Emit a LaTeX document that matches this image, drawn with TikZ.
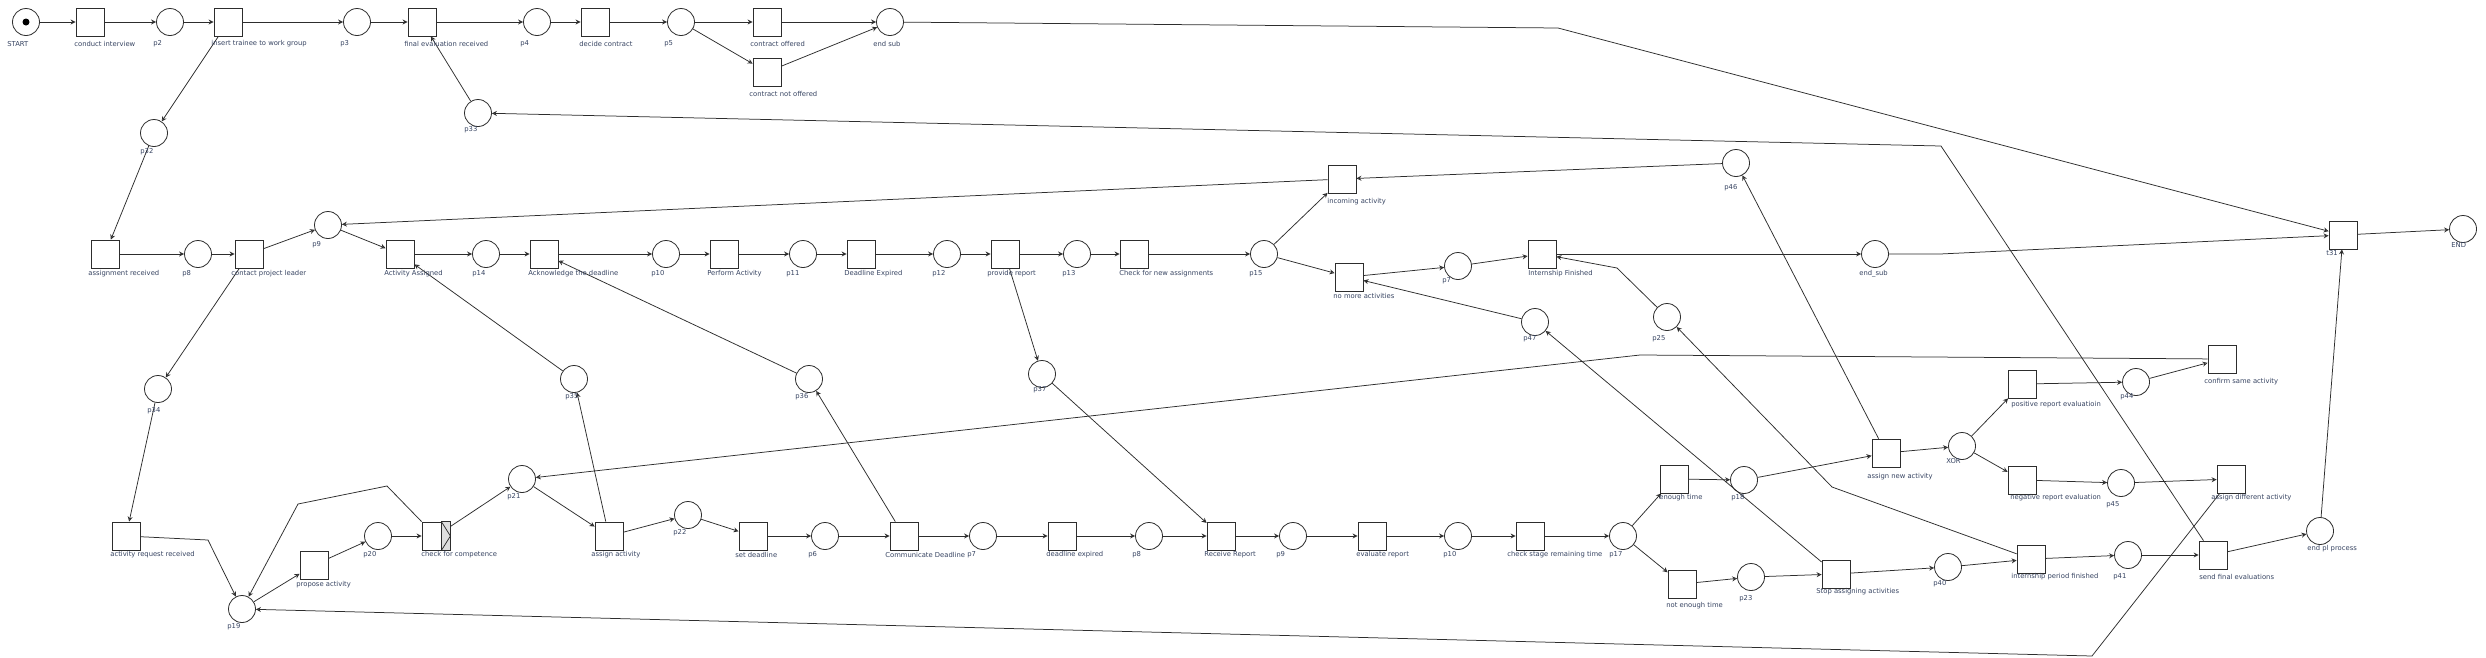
\documentclass[tikz,border=0pt]{standalone}
\usepackage{fontspec}
\newfontfamily\lblfont{DejaVu Sans}
\usetikzlibrary{arrows.meta,positioning}
\definecolor{labelcol}{RGB}{55,68,98}
\definecolor{linecol}{RGB}{45,45,45}

\begin{document}
\begin{tikzpicture}
	% Styles
	[
	x=1pt,y=-1pt,
	color=linecol,line width=0.75pt,
	>={Stealth[open,length=5pt,width=5pt]},
	place/.style={circle,draw=linecol,fill=white,line width=0.8pt,inner sep=0pt,minimum size=27pt},
	trans/.style={rectangle,draw=linecol,fill=white,line width=0.8pt,inner sep=0pt,minimum size=28pt},
	token/.style={circle,fill=black,inner sep=0pt,minimum size=7pt},
	lbl/.style={anchor=west,inner sep=0pt,text=labelcol,font=\lblfont\fontsize{6.8}{8}\selectfont},
	]

	% Frame
	\fill[white] (0,0) rectangle (2486,657);
	\useasboundingbox (0,0) rectangle (2486,657);

	% Bends
	\coordinate (b1) at (1558,28);
	\coordinate (b2) at (1941,146);
	\coordinate (b3) at (1940,254);
	\coordinate (b4) at (1617,268);
	\coordinate (b5) at (1832,487);
	\coordinate (b6) at (1640,355);
	\coordinate (b7) at (2092,656);
	\coordinate (b8) at (208,540);
	\coordinate (b9) at (387,486);
	\coordinate (b10) at (298,504);

	% Places
	\node at (26,22) (start) [place] {};
	\node at (26,22) (tok) [token] {};
	\node at (170,22) (p2) [place] {};
	\node at (357,22) (p3) [place] {};
	\node at (537,22) (p4) [place] {};
	\node at (681,22) (p5) [place] {};
	\node at (890,22) (endsub) [place] {};
	\node at (478,113) (p33) [place] {};
	\node at (154,133) (p32) [place] {};
	\node at (198,254) (p8a) [place] {};
	\node at (328,225) (p9a) [place] {};
	\node at (486,254) (p14) [place] {};
	\node at (666,254) (p10a) [place] {};
	\node at (803,254) (p11) [place] {};
	\node at (947,254) (p12) [place] {};
	\node at (1077,254) (p13) [place] {};
	\node at (1264,254) (p15) [place] {};
	\node at (1458,266) (p7a) [place] {};
	\node at (1535,322) (p47) [place] {};
	\node at (1736,163) (p46) [place] {};
	\node at (1875,254) (endsubb) [place] {};
	\node at (2463,229) (end) [place] {};
	\node at (1667,317) (p25) [place] {};
	\node at (158,389) (p34) [place] {};
	\node at (242,609) (p19) [place] {};
	\node at (378,536) (p20) [place] {};
	\node at (522,479) (p21) [place] {};
	\node at (574,379) (p35) [place] {};
	\node at (688,515) (p22) [place] {};
	\node at (825,536) (p6) [place] {};
	\node at (809,379) (p36) [place] {};
	\node at (983,536) (p7b) [place] {};
	\node at (1149,536) (p8b) [place] {};
	\node at (1042,374) (p37) [place] {};
	\node at (1293,536) (p9b) [place] {};
	\node at (1458,536) (p10b) [place] {};
	\node at (1623,536) (p17) [place] {};
	\node at (1744,480) (p18) [place] {};
	\node at (1751,577) (p23) [place] {};
	\node at (1948,567) (p40) [place] {};
	\node at (1962,446) (xor) [place] {};
	\node at (2136,382) (p44) [place] {};
	\node at (2121,483) (p45) [place] {};
	\node at (2128,555) (p41) [place] {};
	\node at (2320,531) (endpl) [place] {};

	% Transitions
	\node at (90,22) (ci) [trans] {};
	\node at (228,22) (itw) [trans] {};
	\node at (422,22) (fer) [trans] {};
	\node at (595,22) (dc) [trans] {};
	\node at (767,22) (co) [trans] {};
	\node at (767,72) (cno) [trans] {};
	\node at (2343,235) (t31) [trans] {};
	\node at (105,254) (ar) [trans] {};
	\node at (249,254) (cpl) [trans] {};
	\node at (400,254) (aa) [trans] {};
	\node at (544,254) (ack) [trans] {};
	\node at (724,254) (pa) [trans] {};
	\node at (861,254) (de) [trans] {};
	\node at (1005,254) (pr) [trans] {};
	\node at (1134,254) (cna) [trans] {};
	\node at (1342,179) (ia) [trans] {};
	\node at (1349,277) (nma) [trans] {};
	\node at (1542,254) (inf) [trans] {};
	\node at (126,536) (arr) [trans] {};
	\node at (314,565) (pro) [trans] {};
	\node at (436,536) (cfc) [trans] {};
	\node at (609,536) (asg) [trans] {};
	\node at (753,536) (sd) [trans] {};
	\node at (904,536) (cd) [trans] {};
	\node at (1062,536) (dex) [trans] {};
	\node at (1221,536) (rr) [trans] {};
	\node at (1372,536) (er) [trans] {};
	\node at (1530,536) (csrt) [trans] {};
	\node at (1674,479) (et) [trans] {};
	\node at (1682,584) (net) [trans] {};
	\node at (1836,574) (sa) [trans] {};
	\node at (2031,559) (ipf) [trans] {};
	\node at (1886,453) (ana) [trans] {};
	\node at (2022,384) (pre) [trans] {};
	\node at (2022,480) (nre) [trans] {};
	\node at (2222,359) (csa) [trans] {};
	\node at (2231,479) (ada) [trans] {};
	\node at (2213,555) (sfe) [trans] {};

	% check for competence marker
	\fill[gray!25] ([xshift=-9pt]cfc.north east) rectangle (cfc.south east);
	\draw ([xshift=-9pt]cfc.north east) -- (cfc.east) -- ([xshift=-9pt]cfc.south east);
	\draw[line width=1pt] ([xshift=-9pt]cfc.north east) rectangle (cfc.south east);

	% Arrows
	\draw[->] (start) -- (ci);
	\draw[->] (ci) -- (p2);
	\draw[->] (p2) -- (itw);
	\draw[->] (itw) -- (p3);
	\draw[->] (p3) -- (fer);
	\draw[->] (fer) -- (p4);
	\draw[->] (p4) -- (dc);
	\draw[->] (dc) -- (p5);
	\draw[->] (p5) -- (co);
	\draw[->] (p5) -- (cno);
	\draw[->] (co) -- (endsub);
	\draw[->] (cno) -- (endsub);
	\draw[->] (endsub) -- (b1) -- (t31);
	\draw[->] (itw) -- (p32);
	\draw[->] (p32) -- (ar);
	\draw[->] (ar) -- (p8a);
	\draw[->] (p8a) -- (cpl);
	\draw[->] (cpl) -- (p9a);
	\draw[->] (cpl) -- (p34);
	\draw[->] (p9a) -- (aa);
	\draw[->] (aa) -- (p14);
	\draw[->] (p14) -- (ack);
	\draw[->] (ack) -- (p10a);
	\draw[->] (p10a) -- (pa);
	\draw[->] (pa) -- (p11);
	\draw[->] (p11) -- (de);
	\draw[->] (de) -- (p12);
	\draw[->] (p12) -- (pr);
	\draw[->] (pr) -- (p13);
	\draw[->] (pr) -- (p37);
	\draw[->] (p13) -- (cna);
	\draw[->] (cna) -- (p15);
	\draw[->] (p15) -- (ia);
	\draw[->] (p15) -- (nma);
	\draw[->] (ia) -- (p9a);
	\draw[->] (p46) -- (ia);
	\draw[->] (ana) -- (p46);
	\draw[->] (nma) -- (p7a);
	\draw[->] (p7a) -- (inf);
	\draw[->] (inf) -- (endsubb);
	\draw[->] (p25) -- (b4) -- (inf);
	\draw[->] (endsubb) -- (b3) -- (t31);
	\draw[->] (t31) -- (end);
	\draw[->] (endpl) -- (t31);
	\draw[->] (p47) -- (nma);
	\draw[->] (sa) -- (p47);
	\draw[->] (ipf) -- (b5) -- (p25);
	\draw[->] (csa) -- (b6) -- (p21);
	\draw[->] (ada) -- (b7) -- (p19);
	\draw[->] (sfe) -- (b2) -- (p33);
	\draw[->] (p33) -- (fer);
	\draw[->] (p35) -- (aa);
	\draw[->] (asg) -- (p35);
	\draw[->] (p36) -- (ack);
	\draw[->] (cd) -- (p36);
	\draw[->] (p37) -- (rr);
	\draw[->] (p34) -- (arr);
	\draw[->] (arr) -- (b8) -- (p19);
	\draw[->] (cfc.north west) -- (b9) -- (b10) -- (p19);
	\draw[->] (p19) -- (pro);
	\draw[->] (pro) -- (p20);
	\draw[->] (p20) -- (cfc);
	\draw[->] (cfc) -- (p21);
	\draw[->] (p21) -- (asg);
	\draw[->] (asg) -- (p22);
	\draw[->] (p22) -- (sd);
	\draw[->] (sd) -- (p6);
	\draw[->] (p6) -- (cd);
	\draw[->] (cd) -- (p7b);
	\draw[->] (p7b) -- (dex);
	\draw[->] (dex) -- (p8b);
	\draw[->] (p8b) -- (rr);
	\draw[->] (rr) -- (p9b);
	\draw[->] (p9b) -- (er);
	\draw[->] (er) -- (p10b);
	\draw[->] (p10b) -- (csrt);
	\draw[->] (csrt) -- (p17);
	\draw[->] (p17) -- (et);
	\draw[->] (p17) -- (net);
	\draw[->] (et) -- (p18);
	\draw[->] (net) -- (p23);
	\draw[->] (p23) -- (sa);
	\draw[->] (sa) -- (p40);
	\draw[->] (p40) -- (ipf);
	\draw[->] (ipf) -- (p41);
	\draw[->] (p41) -- (sfe);
	\draw[->] (sfe) -- (endpl);
	\draw[->] (p18) -- (ana);
	\draw[->] (ana) -- (xor);
	\draw[->] (xor) -- (pre);
	\draw[->] (xor) -- (nre);
	\draw[->] (pre) -- (p44);
	\draw[->] (p44) -- (csa);
	\draw[->] (nre) -- (p45);
	\draw[->] (p45) -- (ada);

	% Text
	\node at (7,44) (l-start) [lbl] {START};
	\node at (74,44) (l-ci) [lbl] {conduct interview};
	\node at (153,44) (l-p2) [lbl] {p2};
	\node at (211,44) (l-itw) [lbl] {insert trainee to work group};
	\node at (340,44) (l-p3) [lbl] {p3};
	\node at (404,44) (l-fer) [lbl] {final evaluation received};
	\node at (520,44) (l-p4) [lbl] {p4};
	\node at (579,44) (l-dc) [lbl] {decide contract};
	\node at (664,44) (l-p5) [lbl] {p5};
	\node at (750,44) (l-co) [lbl] {contract offered};
	\node at (749,94) (l-cno) [lbl] {contract not offered};
	\node at (873,44) (l-endsub) [lbl] {end sub};
	\node at (464,130) (l-p33) [lbl] {p33};
	\node at (140,152) (l-p32) [lbl] {p32};
	\node at (88,274) (l-ar) [lbl] {assignment received};
	\node at (182,274) (l-p8a) [lbl] {p8};
	\node at (231,274) (l-cpl) [lbl] {contact project leader};
	\node at (312,245) (l-p9a) [lbl] {p9};
	\node at (384,274) (l-aa) [lbl] {Activity Assigned};
	\node at (472,274) (l-p14) [lbl] {p14};
	\node at (528,274) (l-ack) [lbl] {Acknowledge the deadline};
	\node at (651,274) (l-p10a) [lbl] {p10};
	\node at (707,274) (l-pa) [lbl] {Perform Activity};
	\node at (786,274) (l-p11) [lbl] {p11};
	\node at (844,274) (l-de) [lbl] {Deadline Expired};
	\node at (932,274) (l-p12) [lbl] {p12};
	\node at (987,274) (l-pr) [lbl] {provide report};
	\node at (1062,274) (l-p13) [lbl] {p13};
	\node at (1119,274) (l-cna) [lbl] {Check for new assignments};
	\node at (1249,274) (l-p15) [lbl] {p15};
	\node at (1327,202) (l-ia) [lbl] {incoming activity};
	\node at (1333,296) (l-nma) [lbl] {no more activities};
	\node at (1442,281) (l-p7a) [lbl] {p7};
	\node at (1528,274) (l-inf) [lbl] {Internship Finished};
	\node at (1523,339) (l-p47) [lbl] {p47};
	\node at (1724,188) (l-p46) [lbl] {p46};
	\node at (1859,274) (l-endsubb) [lbl] {end\_sub};
	\node at (2326,253) (l-t31) [lbl] {t31};
	\node at (2451,245) (l-end) [lbl] {END};
	\node at (1652,339) (l-p25) [lbl] {p25};
	\node at (147,411) (l-p34) [lbl] {p34};
	\node at (110,555) (l-arr) [lbl] {activity request received};
	\node at (227,627) (l-p19) [lbl] {p19};
	\node at (296,585) (l-pro) [lbl] {propose activity};
	\node at (363,555) (l-p20) [lbl] {p20};
	\node at (421,555) (l-cfc) [lbl] {check for competence};
	\node at (507,497) (l-p21) [lbl] {p21};
	\node at (565,397) (l-p35) [lbl] {p35};
	\node at (591,555) (l-asg) [lbl] {assign activity};
	\node at (673,533) (l-p22) [lbl] {p22};
	\node at (735,555) (l-sd) [lbl] {set deadline};
	\node at (808,555) (l-p6) [lbl] {p6};
	\node at (795,397) (l-p36) [lbl] {p36};
	\node at (885,555) (l-cd) [lbl] {Communicate Deadline};
	\node at (967,555) (l-p7b) [lbl] {p7};
	\node at (1046,555) (l-dex) [lbl] {deadline expired};
	\node at (1132,555) (l-p8b) [lbl] {p8};
	\node at (1033,390) (l-p37) [lbl] {p37};
	\node at (1204,555) (l-rr) [lbl] {Receive Report};
	\node at (1276,555) (l-p9b) [lbl] {p9};
	\node at (1356,555) (l-er) [lbl] {evaluate report};
	\node at (1443,555) (l-p10b) [lbl] {p10};
	\node at (1507,555) (l-csrt) [lbl] {check stage remaining time};
	\node at (1609,555) (l-p17) [lbl] {p17};
	\node at (1659,498) (l-et) [lbl] {enough time};
	\node at (1731,498) (l-p18) [lbl] {p18};
	\node at (1666,606) (l-net) [lbl] {not enough time};
	\node at (1739,599) (l-p23) [lbl] {p23};
	\node at (1816,592) (l-sa) [lbl] {Stop assigning activities};
	\node at (1933,584) (l-p40) [lbl] {p40};
	\node at (2011,577) (l-ipf) [lbl] {internship period finished};
	\node at (1867,477) (l-ana) [lbl] {assign new activity};
	\node at (1946,461) (l-xor) [lbl] {XOR};
	\node at (2011,405) (l-pre) [lbl] {positive report evaluatioin};
	\node at (2010,498) (l-nre) [lbl] {negative report evaluation};
	\node at (2120,397) (l-p44) [lbl] {p44};
	\node at (2204,382) (l-csa) [lbl] {confirm same activity};
	\node at (2106,505) (l-p45) [lbl] {p45};
	\node at (2211,498) (l-ada) [lbl] {assign different activity};
	\node at (2113,577) (l-p41) [lbl] {p41};
	\node at (2199,577) (l-sfe) [lbl] {send final evaluations};
	\node at (2307,549) (l-endpl) [lbl] {end pl process};
\end{tikzpicture}
\end{document}
